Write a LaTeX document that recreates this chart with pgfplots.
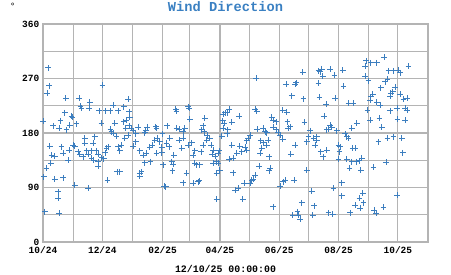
\documentclass[border=0pt]{standalone}
\usepackage{fontspec}
\setmainfont{Liberation Mono}
\usepackage{pgfplots}
\pgfplotsset{compat=1.18}
\definecolor{ptblue}{HTML}{3C7EBF}
\definecolor{titleblue}{HTML}{3A80C2}
\definecolor{gridgray}{HTML}{B4B4B4}
\begin{document}
\begin{tikzpicture}[x=1pt,y=1pt]
\useasboundingbox (0,0) rectangle (451,275);
\begin{axis}[
  at={(43pt,33pt)}, anchor=south west,
  scale only axis, width=385pt, height=218pt,
  xmin=0, xmax=396, ymin=0, ymax=360,
  xtick={0,31,61,92,123,151,182,212,243,273,304,335,365,396},
  xticklabels={10/24,,12/24,,02/25,,04/25,,06/25,,08/25,,10/25,},
  ytick={0,45,90,135,180,225,270,315,360},
  yticklabels={0,,90,,180,,270,,360},
  grid=major,
  major grid style={gridgray, line width=1.2pt},
  axis line style={gridgray, line width=1.2pt},
  major tick length=0pt,
  tick label style={font=\bfseries\fontsize{9.5}{10}\selectfont, black},
  xticklabel style={anchor=base, yshift=-12pt},
  yticklabel style={inner sep=3.5pt},
  clip=false,
]
\addplot[only marks, mark=+, mark size=2.9pt, line width=0.95pt, color=ptblue] coordinates {
(5.2,287.8)(6.2,258.1)(4.5,245.6)(61.2,259.3)(23.4,237.3)(37.1,237.3)(48.1,230.7)(38.5,224.6)(39.6,220.8)(47.4,220.8)(22.4,213.5)(72.1,226.2)(87.6,235.7)(83.1,223.4)(57.7,216.8)(64.6,216.8)(69.4,216.8)(77.3,216.8)(88.6,215.2)(0.3,199.8)(29.3,208.1)(30.3,205.9)(17.9,200.3)(10.3,192.1)(16.5,187.8)(24.1,185.0)(27.5,193.2)(34.4,194.9)(60.2,196.0)(69.4,186.1)(70.5,182.1)(73.9,196.0)(83.1,198.7)(85.9,201.5)(89.3,205.9)(88.6,191.6)(85.2,187.8)(91.1,187.8)(92.7,183.8)(97.9,189.4)(107.1,189.4)(105.8,183.8)(116.1,190.4)(116.8,187.8)(127.7,191.6)(95.5,178.4)(104.8,180.5)(123.0,178.4)(72.1,179.5)
(43.0,171.3)(53.3,173.9)(43.0,163.0)(51.5,163.0)(6.9,158.5)(19.0,157.4)(30.9,160.2)(32.7,158.5)(20.6,146.5)(26.8,151.9)(36.1,149.1)(37.8,145.3)(41.2,140.9)(44.7,150.8)(46.4,145.3)(49.9,150.8)(55.0,150.8)(56.7,145.3)(65.3,154.7)(67.0,157.4)(63.9,147.5)(60.2,139.2)(62.5,137.6)(56.7,132.6)(56.7,125.5)(49.9,138.2)(52.2,135.4)(8.7,143.7)(12.1,142.0)(7.9,130.0)(3.5,121.7)(25.8,135.4)(1.0,107.8)(12.1,103.5)(20.6,106.2)(32.7,94.1)(46.4,88.7)(66.3,102.4)(15.5,83.1)(15.5,72.2)(1.8,50.0)(16.5,47.4)(77.3,157.4)(79.0,150.8)(76.2,116.1)(79.0,116.1)(75.6,175.0)(84.2,171.3)(87.6,176.7)(80.8,160.2)(92.7,158.5)(95.5,165.6)(99.6,150.8)(103.0,143.7)(104.8,131.0)(110.6,132.6)(99.6,113.5)(101.4,116.1)(99.6,109.0)(106.5,146.5)(109.9,156.4)(112.7,160.2)(115.1,168.4)(117.4,171.3)(120.2,165.6)(122.0,156.4)(116.8,146.5)(122.0,147.5)(127.1,163.0)(129.8,157.4)(123.6,127.2)(124.7,92.5)(126.4,91.3)(132.3,132.6)(133.9,128.8)(133.3,117.7)(134.6,143.7)(130.5,171.3)
(219.2,270.3)(267.2,280.2)(250.0,260.4)(260.3,263.1)(259.3,260.9)(255.9,241.6)(267.9,236.2)(136.7,219.6)(137.4,216.3)(149.4,223.4)(150.4,220.8)(151.1,203.1)(166.6,204.3)(187.2,213.5)(191.6,219.1)(189.6,213.5)(185.4,211.4)(201.9,208.1)(184.8,200.3)(186.5,196.0)(194.1,197.7)(218.1,219.6)(219.8,216.3)(235.3,205.9)(236.9,201.5)(239.7,198.7)(246.6,218.0)(250.8,214.2)(251.4,198.7)(268.9,197.7)(137.4,187.8)(140.1,186.1)(146.0,187.8)(144.2,182.1)(164.8,191.6)(163.2,185.0)(165.9,182.1)(169.0,176.7)(185.4,187.8)(190.0,185.0)(220.5,186.1)(226.6,187.8)(228.4,182.1)(236.9,189.4)(239.7,185.0)(242.1,180.5)(252.4,187.8)(254.2,190.4)(230.1,180.5)(189.6,178.4)
(140.1,168.4)(144.2,171.3)(142.6,154.7)(149.4,160.2)(152.9,164.0)(154.5,143.7)(156.3,150.8)(162.5,149.1)(164.8,160.2)(171.7,171.3)(168.3,168.4)(172.8,160.2)(175.1,151.9)(174.1,145.3)(176.9,142.0)(180.3,146.5)(181.3,150.8)(183.8,175.0)(178.6,132.6)(180.3,130.0)(175.1,130.0)(182.0,118.9)(178.6,113.5)(156.3,130.0)(158.0,127.2)(161.4,127.2)(147.7,113.5)(144.2,97.9)(159.7,99.6)(160.7,101.2)(154.5,96.9)(178.6,70.5)(194.1,160.2)(202.6,158.5)(207.8,156.4)(204.4,149.1)(199.2,146.5)(209.5,151.9)(191.6,136.6)(195.7,138.2)(211.2,171.3)(212.9,176.7)(209.5,167.3)(223.9,167.3)(226.6,164.0)(223.2,146.5)(225.0,154.7)(230.1,160.2)(231.8,168.4)(195.7,114.4)(218.1,110.6)(216.3,103.5)(214.7,102.4)(212.9,96.9)(206.8,96.9)(200.9,88.7)(197.5,85.9)(205.4,70.5)(222.5,125.5)(232.5,140.9)(233.5,121.7)(232.5,117.7)(246.6,169.6)(243.8,176.7)(249.0,102.4)(247.2,99.6)(243.8,92.5)(258.3,102.4)(259.3,160.2)(254.9,145.3)(236.9,58.3)(256.9,44.6)(261.7,50.0)(262.7,44.6)(264.5,37.5)(266.2,64.9)
(283.3,282.9)(286.8,285.2)(287.8,274.1)(285.1,281.2)(295.4,285.2)(299.8,275.8)(308.4,284.0)(283.3,262.1)(309.1,257.6)(332.4,299.4)(331.3,290.6)(337.3,296.1)(343.5,296.1)(351.0,305.0)(376.0,290.6)(355.4,282.9)(360.6,282.9)(365.7,284.0)(367.5,279.6)(331.3,274.1)(334.7,266.4)(354.4,268.7)(352.0,264.7)(347.6,254.8)(362.3,255.5)(359.9,248.2)(357.8,245.6)(357.1,241.1)(367.5,244.4)(339.3,244.4)(337.3,240.0)(336.6,234.5)(343.5,230.7)(346.9,226.2)(370.9,235.7)(374.4,237.3)(372.6,220.8)(374.4,218.0)(364.1,220.8)(357.2,216.8)(333.8,218.0)(336.6,201.5)(346.2,204.3)(348.6,189.4)(364.7,202.6)(372.6,201.5)(284.3,239.0)(300.5,237.3)(291.2,227.4)(314.2,229.1)(319.4,229.1)(289.2,208.1)(295.4,193.2)(297.1,189.4)(291.9,185.0)(293.6,186.1)(302.3,183.8)(310.8,178.4)(317.7,187.8)(322.9,196.0)(274.8,183.8)
(271.4,165.6)(273.0,173.9)(278.2,171.3)(281.7,173.9)(281.7,168.4)(279.9,160.2)(312.6,173.9)(314.2,171.3)(285.8,149.1)(291.9,151.9)(288.4,140.9)(303.9,160.2)(305.7,157.4)(304.9,149.1)(318.7,154.7)(321.1,154.7)(303.9,136.6)(312.6,136.6)(317.7,132.6)(322.9,132.6)(325.5,134.3)(328.0,138.2)(315.2,121.7)(327.0,118.9)(340.0,123.4)(345.1,165.6)(354.4,171.3)(360.6,173.9)(369.2,171.3)(370.2,147.5)(353.0,131.6)(271.4,118.9)(307.4,97.9)(298.8,88.7)(276.5,84.2)(307.4,76.0)(329.0,80.4)(325.5,72.2)(329.7,64.9)(321.1,61.1)(326.3,55.7)(315.9,48.4)(364.1,77.6)(278.9,59.5)(277.5,44.6)(293.6,48.4)(298.1,46.2)(340.7,52.8)(342.8,47.4)(350.3,57.3)
};
\end{axis}
\node[anchor=base, font=\bfseries\fontsize{13.7}{14}\selectfont, text=titleblue, inner sep=0pt] at (225.5,263.5) {Wind Direction};
\node[anchor=base, font=\bfseries\fontsize{9.9}{10}\selectfont, inner sep=0pt] at (225.5,2.5) {12/10/25 00:00:00};
\node[anchor=base, font=\fontsize{9.5}{10}\selectfont, inner sep=0pt] at (12.7,265.5) {°};
\end{tikzpicture}
\end{document}
